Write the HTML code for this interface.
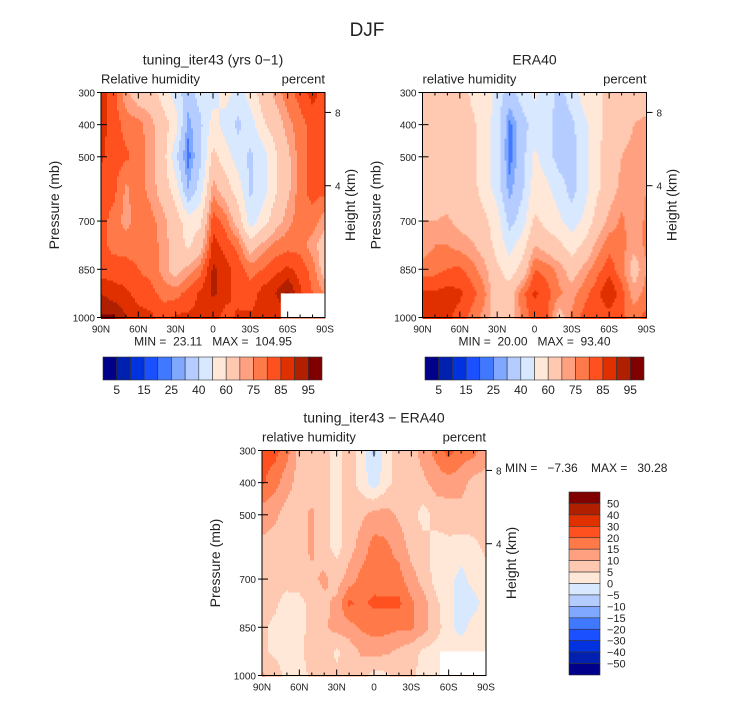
<!DOCTYPE html>
<html><head><meta charset="utf-8">
<style>
body{margin:0;background:#fff;width:733px;height:699px;overflow:hidden}
svg{font-family:"Liberation Sans","DejaVu Sans",sans-serif}
</style></head><body>
<svg id="fig" width="733" height="699" viewBox="0 0 733 699" xmlns="http://www.w3.org/2000/svg">
<text x="367" y="36" text-anchor="middle" font-size="19" fill="#222">DJF</text>
</svg>
<script>
const lats=[90,80,70,60,50,40,30,20,10,0,-10,-20,-30,-40,-50,-60,-70,-80,-90];
const levels=[300,400,500,600,700,775,850,925,1000];
const modelRH=[
[87,82,72,65,65,55,45,35,45,45,55,45,55,65,72,78,82,87,82],
[87,83,78,77,72,65,55,27,38,55,45,38,45,58,65,73,78,82,83],
[86,82,81,78,73,65,42,22,38,63,55,45,38,45,58,68,78,82,82],
[82,82,74,78,73,66,55,30,45,73,65,55,38,45,58,68,78,82,82],
[82,78,73,78,77,72,65,55,58,83,78,66,45,55,66,73,78,78,72],
[82,78,78,78,78,73,66,58,66,87,83,78,65,72,77,78,78,72,66],
[82,83,82,80,78,73,66,72,78,91,87,83,78,80,83,86,83,78,65],
[90,87,86,83,82,78,78,82,86,91,87,83,82,87,90,96,86,80,75],
[96,96,90,87,86,83,86,86,86,87,83,86,86,87,86,86,86,86,86]];
const eraRH=[
[65,65,65,65,58,58,45,36,45,52,45,36,45,55,58,62,65,65,65],
[65,65,65,65,62,55,45,23,35,45,45,35,38,47,57,63,67,70,72],
[65,65,65,65,62,55,45,22,36,52,45,35,36,45,58,65,70,72,72],
[68,66,66,66,63,56,45,27,38,55,52,45,36,46,58,66,72,72,75],
[70,70,71,68,66,62,55,36,45,62,57,52,45,52,64,72,76,72,76],
[72,75,75,73,71,66,56,46,55,70,66,62,55,62,72,78,77,72,76],
[77,78,80,81,77,72,62,55,63,80,78,73,66,72,78,83,77,66,75],
[86,86,87,86,82,76,64,65,78,86,82,76,73,78,83,90,82,72,77],
[90,87,86,83,78,73,65,66,77,82,81,66,76,82,83,82,81,78,82]];
const diffRH=[
[22,22,17,8,8,7,3,7,3,-6,3,7,8,12,17,22,18,17,12],
[21,17,12,8,7,7,3,7,3,-3,3,8,8,9,12,13,12,8,8],
[12,11,8,8,11,7,3,8,9,12,12,9,7,3,7,7,8,7,7],
[9,8,7,8,11,7,3,8,12,17,16,13,8,7,3,4,3,4,6],
[8,7,7,8,9,11,8,12,17,18,17,17,12,8,3,2,-2,2,3],
[7,6,3,3,7,9,11,21,19,21,21,21,16,12,6,2,-3,-2,2],
[6,4,2,3,7,9,12,13,16,17,17,16,16,12,7,2,-2,2,3],
[6,4,3,4,7,8,4,7,11,12,11,9,7,4,3,3,3,3,3],
[11,8,3,3,6,7,6,8,7,3,4,7,6,3,3,3,3,3,3]];
const rhBounds=[5,10,15,20,25,30,40,50,60,70,75,80,85,90,95];
const rhLabels=["5","15","25","40","60","75","85","95"];
const diffBounds=[-50,-40,-30,-20,-15,-10,-5,0,5,10,15,20,30,40,50];
const diffLabels=["50","40","30","20","15","10","5","0","\u22125","\u221210","\u221215","\u221220","\u221230","\u221240","\u221250"];
const xTickLabels=["90N","60N","30N","0","30S","60S","90S"];
const pTicks=[300,400,500,700,850,1000];
const hTicks=[[8,362],[4,590]];
const colors=["#00008a","#0020b0","#0032e0","#1a50ff","#4078ff","#80a8ff","#b4ccff","#d8e8ff","#ffe8d8","#ffc8b0","#ffa080","#ff7a48","#ff5020","#e03000","#b02000","#800000"];
const NS="http://www.w3.org/2000/svg";
const fig=document.getElementById('fig');
function el(tag,attrs,parent){const e=document.createElementNS(NS,tag);for(const k in attrs)e.setAttribute(k,attrs[k]);(parent||fig).appendChild(e);return e;}
function txt(x,y,s,size,anchor,parent){const t=el('text',{x:x,y:y,'font-size':size,'text-anchor':anchor||'middle',fill:'#222'},parent);t.textContent=s;return t;}
function interp(data,lat,p){
 let i=0;while(i<lats.length-2&&lat<lats[i+1])i++;
 let j=0;while(j<levels.length-2&&p>levels[j+1])j++;
 const fx=(lats[i]-lat)/(lats[i]-lats[i+1]);const fy=(p-levels[j])/(levels[j+1]-levels[j]);
 const a=data[j][i],b=data[j][i+1],c=data[j+1][i],d=data[j+1][i+1];
 return a*(1-fx)*(1-fy)+b*fx*(1-fy)+c*(1-fx)*fy+d*fx*fy;}
function cls(v,bounds){let k=0;while(k<bounds.length&&v>=bounds[k])k++;return k;}
function panel(name,x0,y0,data,bounds,title,subL,showMinMax,missing){
 const W=224,H=225;
 const g=el('g',{});
 
 
 const xs=lat=>x0+(90-lat)/180*W;
 const ys=p=>y0+(p-300)/700*H;
 const step=2;
 for(let yy=0;yy<H;yy+=step){
  const p=300+(yy+step/2)/H*700;
  let runStart=0,runC=null;
  for(let xx=0;xx<=W;xx+=step){
   let c=null;
   if(xx<W){const lat=90-(xx+step/2)/W*180;c=cls(interp(data,lat,p),bounds);}
   if(c!==runC){
    if(runC!==null){const r=el('rect',{x:x0+runStart,y:y0+yy,width:Math.min(xx,W)-runStart+0.5,height:step+0.5,fill:colors[runC]},g);
     
     }
    runStart=xx;runC=c;}
  }
 }
 if(missing){
 const miss=el('rect',{x:xs(missing[0]),y:ys(missing[1]),width:xs(-90)-xs(missing[0])+1,height:ys(1000)-ys(missing[1])+1,fill:'#fff'},g);
 
 }
 el('rect',{x:x0,y:y0,width:W,height:H,fill:'none',stroke:'#000','stroke-width':1},g);
 for(let lat=90;lat>=-90;lat-=10){const x=xs(lat);const L=(lat%30===0)?6:3;
  el('line',{x1:x,y1:y0,x2:x,y2:y0+L,stroke:'#000'},g);el('line',{x1:x,y1:y0+H,x2:x,y2:y0+H-L,stroke:'#000'},g);}
 xTickLabels.forEach((s,i)=>{const t=txt(xs(90-30*i),y0+H+15,s,10,'middle',g);});
 pTicks.forEach(p=>{const y=ys(p);el('line',{x1:x0,y1:y,x2:x0+6,y2:y,stroke:'#000'},g);el('line',{x1:x0-4,y1:y,x2:x0,y2:y,stroke:'#000'},g);
  const t=txt(x0-6,y+4,String(p),10,'end',g);});
 hTicks.forEach(h=>{const y=ys(h[1]);el('line',{x1:x0+W,y1:y,x2:x0+W+6,y2:y,stroke:'#000'},g);
  const t=txt(x0+W+10,y+4,String(h[0]),10,'start',g);});
 const yt=txt(0,0,'Pressure (mb)',14,'middle',g);yt.setAttribute('transform',`translate(${x0-42},${y0+H/2}) rotate(-90)`);
 
 const ht=txt(0,0,'Height (km)',14,'middle',g);ht.setAttribute('transform',`translate(${x0+W+30},${y0+H/2}) rotate(-90)`);
 
 const tt=txt(x0+W/2,y0-28,title,14,'middle',g);
 const sl=txt(x0,y0-9,subL,13,'start',g);
 const sr=txt(x0+W,y0-9,'percent',13,'end',g);
 if(showMinMax){const m=txt(x0+W/2,y0+H+28,showMinMax,12,'middle',g);m.setAttribute('xml:space','preserve');m.style.whiteSpace='pre';}
}
panel('model-panel',101,92.5,modelRH,rhBounds,'tuning_iter43 (yrs 0\u22121)','Relative humidity','MIN =  23.11   MAX =  104.95',[-54.5,925]);
panel('era40-panel',422.5,92.5,eraRH,rhBounds,'ERA40','relative humidity','MIN =  20.00   MAX =  93.40',null);
panel('difference-panel',262,450.5,diffRH,diffBounds,'tuning_iter43 \u2212 ERA40','relative humidity',null,[-53,925]);
const mm=txt(505,472,'MIN =   \u22127.36    MAX =   30.28',12,'start');mm.setAttribute('xml:space','preserve');mm.style.whiteSpace='pre';

function hbar(name,x0){const g=el('g',{});
 const w=219/16;colors.forEach((c,i)=>{const r=el('rect',{x:x0+i*w,y:357,width:w,height:23,fill:c,stroke:'#333','stroke-width':0.6},g);
  });
 rhLabels.forEach((s,i)=>{const t=txt(x0+(1+2*i)*w,394,s,12,'middle',g);});}
hbar('model-colorbar',103);hbar('era40-colorbar',425);
(function(){const g=el('g',{});
 const h=183/16;for(let i=0;i<16;i++){const r=el('rect',{x:569,y:492+i*h,width:31,height:h,fill:colors[15-i],stroke:'#333','stroke-width':0.6},g);
  }
 diffLabels.forEach((s,i)=>{const t=txt(607,492+(i+1)*h+4,s,11,'start',g);});})();
</script>
</body></html>
